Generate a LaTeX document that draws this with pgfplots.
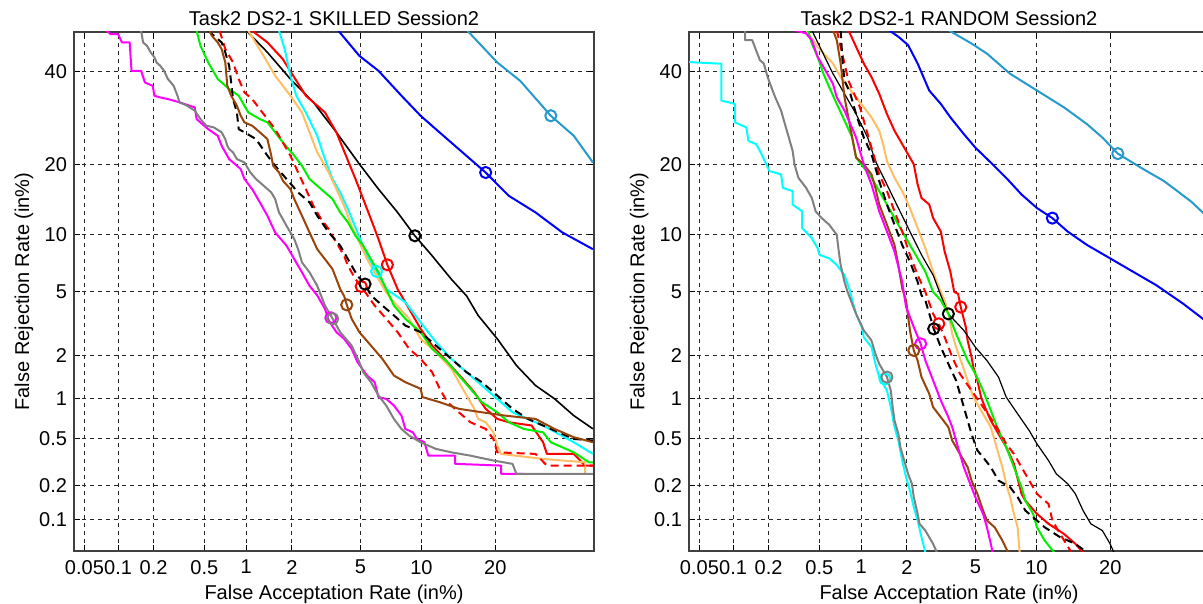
\documentclass[border=0pt]{standalone}
\usepackage{fontspec}
\setmainfont{Liberation Sans}
\usepackage{pgfplots}
\pgfplotsset{compat=1.18}

% DET curves; both axes are in normal-deviate (probit) units
\definecolor{ltblue}{RGB}{38,154,204}
\definecolor{mblue}{RGB}{0,0,255}
\definecolor{mred}{RGB}{255,0,0}
\definecolor{mcyan}{RGB}{0,255,255}
\definecolor{mgreen}{RGB}{0,240,0}
\definecolor{morange}{RGB}{255,190,100}
\definecolor{mbrown}{RGB}{153,68,10}
\definecolor{mmag}{RGB}{255,0,255}
\definecolor{mgray}{RGB}{128,128,128}

\pgfplotsset{
  det/.style={
    scale only axis, width=260pt, height=259.5pt,
    xmin=-3.3528, xmax=-0.2533, ymin=-3.2905, ymax=0,
    xtick={-3.2905,-3.0902,-2.8782,-2.5758,-2.3263,-2.0537,-1.6449,-1.2816,-0.8416},
    xticklabels={0.05,0.1,0.2,0.5,1,2,5,10,20},
    ytick={-3.0902,-2.8782,-2.5758,-2.3263,-2.0537,-1.6449,-1.2816,-0.8416,-0.2533},
    yticklabels={0.1,0.2,0.5,1,2,5,10,20,40},
    grid=major,
    grid style={black!85, line width=0.5pt, dash pattern=on 2pt off 2pt},
    axis line style={draw=black!75, line width=0.8pt},
    tick style={black, line width=0.5pt}, major tick length=3pt, tick align=inside,
    tick label style={font=\fontsize{10}{12}\selectfont},
    label style={font=\fontsize{10}{12}\selectfont},
    title style={font=\fontsize{10}{12}\selectfont, yshift=-6.5pt},
    xticklabel style={yshift=-1pt},
    xlabel={False Acceptation Rate (in\%)},
    ylabel={False Rejection Rate (in\%)},
    xlabel shift=-1.5pt, ylabel shift=-4pt,
    every axis plot/.append style={line width=1pt, line join=round},
  },
  eer/.style={only marks, mark=o, mark size=2.8pt, mark options={line width=1pt}},
  dsh/.style={dash pattern=on 4pt off 2.5pt},
}

\begin{document}
\begin{tikzpicture}

\begin{axis}[det, at={(0,0)}, title={Task2 DS2-1 SKILLED Session2}]
\addplot[ltblue] coordinates {(-1.008,0.008)(-0.830,-0.193)(-0.693,-0.310)(-0.511,-0.531)(-0.374,-0.658)(-0.260,-0.827)};
\addplot[mblue] coordinates {(-1.777,0.008)(-1.652,-0.151)(-1.538,-0.246)(-1.401,-0.404)(-1.287,-0.531)(-1.196,-0.616)(-1.059,-0.743)(-0.899,-0.891)(-0.762,-1.038)(-0.602,-1.144)(-0.442,-1.271)(-0.260,-1.377)};
\addplot[black, line width=0.8pt] coordinates {(-2.325,0.008)(-2.200,-0.129)(-2.063,-0.298)(-1.926,-0.446)(-1.789,-0.636)(-1.652,-0.837)(-1.538,-0.996)(-1.424,-1.144)(-1.321,-1.292)(-1.218,-1.419)(-1.104,-1.567)(-1.013,-1.673)(-0.944,-1.797)(-0.830,-1.945)(-0.716,-2.114)(-0.602,-2.241)(-0.488,-2.326)(-0.374,-2.432)(-0.260,-2.516)};
\addplot[mred] coordinates {(-2.291,0.008)(-2.200,-0.066)(-2.108,-0.172)(-2.040,-0.288)(-1.971,-0.404)(-1.857,-0.510)(-1.789,-0.636)(-1.732,-0.784)(-1.675,-0.932)(-1.629,-1.059)(-1.583,-1.186)(-1.538,-1.313)(-1.485,-1.476)(-1.424,-1.630)(-1.378,-1.713)(-1.287,-1.882)(-1.218,-1.988)(-1.127,-2.093)(-1.036,-2.199)(-0.967,-2.284)(-0.899,-2.389)(-0.830,-2.453)(-0.762,-2.474)(-0.625,-2.495)(-0.557,-2.601)(-0.534,-2.675)(-0.374,-2.675)(-0.306,-2.749)(-0.260,-2.749)};
\addplot[mcyan] coordinates {(-2.131,0.008)(-2.097,-0.108)(-2.063,-0.277)(-2.028,-0.404)(-1.971,-0.510)(-1.903,-0.658)(-1.857,-0.806)(-1.812,-0.932)(-1.766,-1.017)(-1.720,-1.123)(-1.663,-1.271)(-1.606,-1.419)(-1.549,-1.518)(-1.492,-1.630)(-1.378,-1.713)(-1.287,-1.840)(-1.196,-1.966)(-1.104,-2.072)(-1.013,-2.157)(-0.922,-2.241)(-0.830,-2.326)(-0.739,-2.411)(-0.648,-2.453)(-0.557,-2.495)(-0.465,-2.548)(-0.374,-2.601)(-0.260,-2.675)};
\addplot[morange] coordinates {(-2.314,0.008)(-2.223,-0.151)(-2.154,-0.277)(-2.063,-0.404)(-1.994,-0.510)(-1.949,-0.636)(-1.903,-0.763)(-1.835,-0.890)(-1.789,-0.996)(-1.743,-1.102)(-1.698,-1.229)(-1.652,-1.334)(-1.606,-1.440)(-1.538,-1.567)(-1.492,-1.651)(-1.446,-1.713)(-1.355,-1.818)(-1.287,-1.945)(-1.196,-2.030)(-1.104,-2.135)(-1.036,-2.262)(-0.967,-2.389)(-0.944,-2.453)(-0.899,-2.474)(-0.853,-2.538)(-0.830,-2.622)(-0.807,-2.675)(-0.557,-2.707)(-0.306,-2.728)(-0.306,-2.801)};
\addplot[mgreen] coordinates {(-2.622,0.008)(-2.599,-0.087)(-2.553,-0.193)(-2.496,-0.298)(-2.428,-0.362)(-2.371,-0.404)(-2.314,-0.510)(-2.245,-0.552)(-2.200,-0.573)(-2.154,-0.636)(-2.108,-0.700)(-2.040,-0.784)(-1.994,-0.848)(-1.949,-0.932)(-1.880,-0.996)(-1.812,-1.059)(-1.766,-1.144)(-1.720,-1.207)(-1.675,-1.292)(-1.629,-1.355)(-1.583,-1.440)(-1.538,-1.524)(-1.492,-1.630)(-1.446,-1.734)(-1.378,-1.818)(-1.287,-1.903)(-1.218,-2.009)(-1.127,-2.093)(-1.059,-2.178)(-0.990,-2.262)(-0.922,-2.347)(-0.830,-2.411)(-0.762,-2.474)(-0.671,-2.517)(-0.557,-2.538)(-0.511,-2.601)(-0.374,-2.665)(-0.283,-2.728)(-0.260,-2.728)};
\addplot[mred, dsh] coordinates {(-2.485,0.008)(-2.451,-0.108)(-2.405,-0.193)(-2.371,-0.298)(-2.337,-0.383)(-2.291,-0.425)(-2.245,-0.489)(-2.200,-0.552)(-2.154,-0.616)(-2.108,-0.700)(-2.063,-0.784)(-2.017,-0.890)(-1.971,-0.996)(-1.926,-1.102)(-1.880,-1.186)(-1.834,-1.250)(-1.789,-1.334)(-1.743,-1.419)(-1.720,-1.482)(-1.675,-1.567)(-1.641,-1.613)(-1.561,-1.734)(-1.492,-1.818)(-1.424,-1.903)(-1.355,-2.009)(-1.287,-2.072)(-1.218,-2.157)(-1.173,-2.262)(-1.127,-2.347)(-1.059,-2.411)(-0.990,-2.474)(-0.899,-2.517)(-0.853,-2.580)(-0.830,-2.665)(-0.602,-2.675)(-0.534,-2.749)(-0.260,-2.749)};
\addplot[black, dsh] coordinates {(-2.553,0.008)(-2.473,-0.066)(-2.451,-0.129)(-2.428,-0.214)(-2.416,-0.320)(-2.405,-0.425)(-2.382,-0.510)(-2.371,-0.616)(-2.337,-0.636)(-2.268,-0.679)(-2.200,-0.784)(-2.154,-0.848)(-2.086,-0.932)(-2.017,-1.017)(-1.949,-1.080)(-1.903,-1.165)(-1.834,-1.271)(-1.766,-1.355)(-1.720,-1.440)(-1.663,-1.546)(-1.618,-1.598)(-1.583,-1.670)(-1.515,-1.734)(-1.446,-1.797)(-1.378,-1.861)(-1.287,-1.903)(-1.196,-1.988)(-1.104,-2.072)(-1.013,-2.157)(-0.922,-2.220)(-0.830,-2.305)(-0.739,-2.389)(-0.648,-2.453)(-0.557,-2.495)(-0.488,-2.527)(-0.420,-2.559)(-0.374,-2.580)(-0.260,-2.590)};
\addplot[mbrown] coordinates {(-2.547,0.008)(-2.531,-0.024)(-2.496,-0.066)(-2.473,-0.108)(-2.451,-0.193)(-2.439,-0.341)(-2.416,-0.404)(-2.382,-0.467)(-2.359,-0.531)(-2.337,-0.573)(-2.291,-0.594)(-2.245,-0.636)(-2.200,-0.679)(-2.177,-0.784)(-2.166,-0.848)(-2.131,-0.890)(-2.108,-0.943)(-2.063,-0.996)(-2.040,-1.059)(-1.994,-1.165)(-1.949,-1.271)(-1.903,-1.377)(-1.857,-1.440)(-1.812,-1.503)(-1.766,-1.630)(-1.743,-1.673)(-1.727,-1.730)(-1.698,-1.818)(-1.652,-1.903)(-1.583,-1.988)(-1.515,-2.072)(-1.446,-2.178)(-1.378,-2.220)(-1.287,-2.262)(-1.275,-2.315)(-1.173,-2.347)(-1.059,-2.389)(-0.922,-2.411)(-0.785,-2.432)(-0.602,-2.453)(-0.488,-2.517)(-0.374,-2.569)(-0.260,-2.601)};
\addplot[mmag] coordinates {(-3.158,0.008)(-3.135,-0.014)(-3.090,-0.014)(-3.067,-0.066)(-3.021,-0.066)(-3.010,-0.246)(-2.953,-0.246)(-2.930,-0.320)(-2.884,-0.341)(-2.873,-0.404)(-2.839,-0.415)(-2.793,-0.425)(-2.724,-0.446)(-2.633,-0.478)(-2.622,-0.552)(-2.588,-0.584)(-2.553,-0.616)(-2.496,-0.658)(-2.473,-0.721)(-2.428,-0.806)(-2.405,-0.827)(-2.359,-0.869)(-2.337,-0.932)(-2.291,-0.996)(-2.245,-1.080)(-2.200,-1.165)(-2.154,-1.271)(-2.086,-1.355)(-2.040,-1.440)(-1.994,-1.524)(-1.949,-1.609)(-1.903,-1.670)(-1.857,-1.755)(-1.834,-1.829)(-1.789,-1.903)(-1.743,-1.945)(-1.698,-2.009)(-1.663,-2.093)(-1.606,-2.178)(-1.561,-2.220)(-1.538,-2.315)(-1.492,-2.326)(-1.446,-2.368)(-1.401,-2.432)(-1.378,-2.517)(-1.333,-2.538)(-1.310,-2.580)(-1.264,-2.601)(-1.241,-2.686)(-1.081,-2.686)(-1.081,-2.738)(-0.807,-2.749)(-0.807,-2.801)(-0.670,-2.801)};
\addplot[mgray] coordinates {(-2.953,0.008)(-2.941,-0.066)(-2.918,-0.087)(-2.896,-0.129)(-2.873,-0.161)(-2.861,-0.193)(-2.839,-0.214)(-2.816,-0.246)(-2.793,-0.298)(-2.759,-0.341)(-2.736,-0.404)(-2.724,-0.446)(-2.679,-0.467)(-2.633,-0.499)(-2.599,-0.552)(-2.565,-0.594)(-2.519,-0.605)(-2.473,-0.636)(-2.451,-0.679)(-2.439,-0.721)(-2.428,-0.742)(-2.405,-0.763)(-2.382,-0.806)(-2.337,-0.827)(-2.302,-0.890)(-2.268,-0.932)(-2.222,-0.975)(-2.177,-1.017)(-2.154,-1.059)(-2.131,-1.144)(-2.108,-1.186)(-2.086,-1.229)(-2.040,-1.313)(-2.017,-1.377)(-1.994,-1.461)(-1.949,-1.524)(-1.903,-1.609)(-1.857,-1.734)(-1.811,-1.818)(-1.766,-1.903)(-1.698,-1.988)(-1.652,-2.093)(-1.629,-2.157)(-1.583,-2.220)(-1.538,-2.305)(-1.492,-2.368)(-1.446,-2.453)(-1.401,-2.517)(-1.355,-2.559)(-1.287,-2.601)(-1.196,-2.643)(-1.104,-2.665)(-0.990,-2.686)(-0.853,-2.717)(-0.739,-2.738)(-0.716,-2.801)(-0.260,-2.801)};
% operating points
\addplot[eer, ltblue] coordinates {(-0.511,-0.531)};
\addplot[eer, mblue] coordinates {(-0.899,-0.891)};
\addplot[eer, black] coordinates {(-1.321,-1.292)};
\addplot[eer, mred] coordinates {(-1.485,-1.476)};
\addplot[eer, mcyan] coordinates {(-1.549,-1.518)};
\addplot[eer, mred] coordinates {(-1.641,-1.613)};
\addplot[eer, black] coordinates {(-1.618,-1.598)};
\addplot[eer, mbrown] coordinates {(-1.727,-1.730)};
\addplot[eer, mmag] coordinates {(-1.822,-1.812)};
\addplot[eer, mgray] coordinates {(-1.811,-1.818)};
\end{axis}

\begin{axis}[det, at={(307.5pt,0)}, title={Task2 DS2-1 RANDOM Session2}]
\addplot[ltblue] coordinates {(-1.807,0.012)(-1.669,-0.073)(-1.577,-0.137)(-1.440,-0.264)(-1.279,-0.371)(-1.119,-0.477)(-0.981,-0.584)(-0.889,-0.669)(-0.797,-0.771)(-0.660,-0.860)(-0.522,-0.945)(-0.362,-1.073)(-0.277,-1.158)(-0.253,-1.180)};
\addplot[mblue] coordinates {(-2.162,0.012)(-2.105,-0.030)(-2.047,-0.083)(-1.990,-0.200)(-1.921,-0.371)(-1.852,-0.456)(-1.795,-0.541)(-1.715,-0.647)(-1.646,-0.733)(-1.554,-0.828)(-1.463,-0.924)(-1.371,-1.030)(-1.279,-1.116)(-1.187,-1.180)(-1.096,-1.265)(-0.981,-1.350)(-0.843,-1.435)(-0.706,-1.520)(-0.568,-1.605)(-0.407,-1.723)(-0.277,-1.829)(-0.253,-1.850)};
\addplot[mred] coordinates {(-2.403,0.012)(-2.357,-0.094)(-2.311,-0.200)(-2.265,-0.286)(-2.219,-0.392)(-2.173,-0.520)(-2.128,-0.626)(-2.082,-0.711)(-2.036,-0.796)(-2.013,-0.839)(-1.990,-0.967)(-1.967,-1.052)(-1.921,-1.094)(-1.898,-1.179)(-1.852,-1.265)(-1.829,-1.392)(-1.795,-1.520)(-1.772,-1.648)(-1.749,-1.660)(-1.733,-1.744)(-1.703,-1.871)(-1.692,-1.956)(-1.669,-2.061)(-1.658,-2.125)(-1.634,-2.209)(-1.612,-2.315)(-1.589,-2.379)(-1.554,-2.463)(-1.508,-2.548)(-1.462,-2.632)(-1.416,-2.738)(-1.371,-2.928)(-1.348,-2.971)(-1.279,-3.055)(-1.210,-3.118)(-1.118,-3.182)(-1.050,-3.245)(-1.004,-3.300)};
\addplot[morange] coordinates {(-2.655,0.012)(-2.586,-0.094)(-2.495,-0.200)(-2.449,-0.286)(-2.403,-0.350)(-2.357,-0.414)(-2.311,-0.477)(-2.265,-0.541)(-2.219,-0.626)(-2.196,-0.711)(-2.173,-0.818)(-2.128,-0.924)(-2.082,-1.009)(-2.036,-1.116)(-1.990,-1.243)(-1.944,-1.371)(-1.898,-1.520)(-1.852,-1.648)(-1.829,-1.702)(-1.806,-1.787)(-1.784,-1.913)(-1.761,-1.998)(-1.726,-2.104)(-1.692,-2.209)(-1.658,-2.315)(-1.600,-2.421)(-1.554,-2.505)(-1.531,-2.590)(-1.508,-2.675)(-1.485,-2.759)(-1.462,-2.865)(-1.439,-2.949)(-1.416,-3.055)(-1.394,-3.140)(-1.382,-3.300)};
\addplot[black, line width=0.6pt] coordinates {(-2.621,0.012)(-2.563,-0.116)(-2.495,-0.264)(-2.426,-0.392)(-2.357,-0.520)(-2.288,-0.669)(-2.242,-0.818)(-2.173,-0.967)(-2.105,-1.116)(-2.036,-1.265)(-1.967,-1.413)(-1.898,-1.541)(-1.852,-1.669)(-1.807,-1.787)(-1.715,-1.892)(-1.646,-1.998)(-1.577,-2.083)(-1.508,-2.188)(-1.462,-2.315)(-1.394,-2.421)(-1.325,-2.527)(-1.279,-2.611)(-1.210,-2.717)(-1.164,-2.801)(-1.095,-2.865)(-1.050,-2.928)(-1.004,-3.034)(-0.958,-3.118)(-0.889,-3.161)(-0.843,-3.245)(-0.820,-3.300)};
\addplot[mgreen] coordinates {(-2.644,0.012)(-2.621,-0.073)(-2.586,-0.158)(-2.552,-0.264)(-2.517,-0.350)(-2.472,-0.456)(-2.426,-0.562)(-2.380,-0.669)(-2.357,-0.796)(-2.311,-0.860)(-2.265,-0.924)(-2.219,-1.009)(-2.173,-1.094)(-2.128,-1.179)(-2.082,-1.265)(-2.036,-1.350)(-1.990,-1.435)(-1.944,-1.520)(-1.898,-1.648)(-1.852,-1.702)(-1.807,-1.787)(-1.761,-1.913)(-1.692,-2.083)(-1.646,-2.167)(-1.600,-2.273)(-1.554,-2.400)(-1.508,-2.527)(-1.462,-2.632)(-1.416,-2.759)(-1.371,-2.886)(-1.348,-2.971)(-1.302,-3.055)(-1.279,-3.140)(-1.233,-3.224)(-1.176,-3.300)};
\addplot[mred, dsh] coordinates {(-2.472,0.012)(-2.403,-0.307)(-2.334,-0.477)(-2.265,-0.733)(-2.219,-0.903)(-2.173,-1.009)(-2.128,-1.137)(-2.082,-1.265)(-2.036,-1.413)(-1.990,-1.541)(-1.944,-1.648)(-1.898,-1.787)(-1.864,-1.850)(-1.829,-1.935)(-1.784,-2.061)(-1.738,-2.167)(-1.669,-2.273)(-1.600,-2.378)(-1.531,-2.484)(-1.462,-2.611)(-1.416,-2.675)(-1.371,-2.759)(-1.325,-2.844)(-1.279,-2.928)(-1.210,-2.992)(-1.187,-3.097)(-1.141,-3.182)(-1.073,-3.300)};
\addplot[black, dsh] coordinates {(-2.449,0.012)(-2.437,-0.200)(-2.426,-0.307)(-2.391,-0.392)(-2.357,-0.520)(-2.311,-0.669)(-2.265,-0.775)(-2.219,-0.945)(-2.173,-1.094)(-2.128,-1.222)(-2.082,-1.350)(-2.036,-1.456)(-1.990,-1.584)(-1.967,-1.669)(-1.944,-1.702)(-1.894,-1.882)(-1.852,-1.998)(-1.807,-2.104)(-1.761,-2.209)(-1.726,-2.336)(-1.692,-2.463)(-1.669,-2.548)(-1.634,-2.653)(-1.600,-2.696)(-1.554,-2.759)(-1.508,-2.844)(-1.439,-2.886)(-1.394,-2.949)(-1.348,-3.034)(-1.302,-3.076)(-1.233,-3.140)(-1.141,-3.203)(-1.050,-3.245)(-0.981,-3.300)};
\addplot[mbrown] coordinates {(-2.495,0.012)(-2.472,-0.052)(-2.449,-0.200)(-2.426,-0.414)(-2.403,-0.541)(-2.380,-0.669)(-2.357,-0.796)(-2.311,-0.839)(-2.265,-0.903)(-2.242,-0.988)(-2.219,-1.094)(-2.173,-1.222)(-2.128,-1.350)(-2.105,-1.477)(-2.082,-1.626)(-2.059,-1.702)(-2.036,-1.892)(-2.013,-2.019)(-1.990,-2.083)(-1.967,-2.188)(-1.921,-2.294)(-1.898,-2.378)(-1.852,-2.442)(-1.807,-2.505)(-1.784,-2.590)(-1.738,-2.675)(-1.692,-2.759)(-1.669,-2.844)(-1.634,-2.928)(-1.600,-3.034)(-1.577,-3.097)(-1.531,-3.140)(-1.485,-3.224)(-1.451,-3.300)};
\addplot[mmag] coordinates {(-2.724,0.012)(-2.655,-0.009)(-2.621,-0.052)(-2.586,-0.158)(-2.540,-0.243)(-2.495,-0.328)(-2.472,-0.414)(-2.426,-0.498)(-2.391,-0.584)(-2.357,-0.669)(-2.334,-0.754)(-2.311,-0.839)(-2.265,-0.967)(-2.242,-1.052)(-2.219,-1.137)(-2.173,-1.265)(-2.128,-1.392)(-2.082,-1.584)(-2.070,-1.669)(-2.059,-1.744)(-2.013,-1.871)(-1.972,-1.977)(-1.944,-2.083)(-1.898,-2.209)(-1.852,-2.336)(-1.807,-2.442)(-1.784,-2.505)(-1.761,-2.590)(-1.738,-2.675)(-1.715,-2.759)(-1.692,-2.823)(-1.669,-2.886)(-1.646,-2.949)(-1.600,-3.055)(-1.577,-3.140)(-1.554,-3.245)(-1.543,-3.300)};
\addplot[mcyan] coordinates {(-3.360,-0.190)(-3.297,-0.194)(-3.160,-0.201)(-3.160,-0.435)(-3.079,-0.456)(-3.079,-0.573)(-3.011,-0.605)(-2.999,-0.690)(-2.953,-0.711)(-2.930,-0.754)(-2.873,-0.882)(-2.804,-0.903)(-2.793,-0.988)(-2.735,-1.009)(-2.735,-1.094)(-2.678,-1.137)(-2.678,-1.243)(-2.621,-1.307)(-2.586,-1.371)(-2.575,-1.413)(-2.517,-1.435)(-2.472,-1.477)(-2.426,-1.541)(-2.392,-1.645)(-2.380,-1.702)(-2.357,-1.787)(-2.323,-1.871)(-2.311,-1.935)(-2.265,-1.998)(-2.242,-2.104)(-2.219,-2.188)(-2.173,-2.273)(-2.150,-2.378)(-2.128,-2.505)(-2.105,-2.590)(-2.082,-2.717)(-2.059,-2.823)(-2.036,-2.907)(-2.013,-3.013)(-1.990,-3.097)(-1.967,-3.203)(-1.944,-3.300)};
\addplot[mgray] coordinates {(-3.018,0.012)(-3.018,-0.052)(-2.976,-0.052)(-2.953,-0.116)(-2.930,-0.179)(-2.907,-0.200)(-2.884,-0.286)(-2.862,-0.350)(-2.839,-0.414)(-2.804,-0.498)(-2.781,-0.584)(-2.758,-0.669)(-2.735,-0.754)(-2.724,-0.839)(-2.701,-0.924)(-2.655,-0.988)(-2.621,-1.052)(-2.598,-1.137)(-2.563,-1.179)(-2.517,-1.222)(-2.472,-1.286)(-2.460,-1.392)(-2.449,-1.477)(-2.426,-1.584)(-2.410,-1.640)(-2.403,-1.660)(-2.357,-1.787)(-2.311,-1.892)(-2.265,-1.956)(-2.242,-2.040)(-2.219,-2.104)(-2.173,-2.188)(-2.150,-2.273)(-2.139,-2.378)(-2.128,-2.463)(-2.105,-2.548)(-2.093,-2.632)(-2.070,-2.717)(-2.047,-2.801)(-2.024,-2.865)(-2.013,-2.949)(-1.990,-3.055)(-1.979,-3.118)(-1.944,-3.161)(-1.898,-3.245)(-1.875,-3.300)};
% operating points
\addplot[eer, ltblue] coordinates {(-0.797,-0.771)};
\addplot[eer, mblue] coordinates {(-1.187,-1.180)};
\addplot[eer, mred] coordinates {(-1.733,-1.744)};
\addplot[eer, black] coordinates {(-1.807,-1.787)};
\addplot[eer, mred] coordinates {(-1.864,-1.850)};
\addplot[eer, black] coordinates {(-1.894,-1.882)};
\addplot[eer, mmag] coordinates {(-1.972,-1.977)};
\addplot[eer, mbrown] coordinates {(-2.013,-2.019)};
\addplot[eer, mcyan] coordinates {(-2.185,-2.200)};
\addplot[eer, mgray] coordinates {(-2.173,-2.188)};
\end{axis}

\pgfresetboundingbox
\path[use as bounding box] (-37pt,-26.5pt) rectangle (564.5pt,275.5pt);
\end{tikzpicture}
\end{document}
